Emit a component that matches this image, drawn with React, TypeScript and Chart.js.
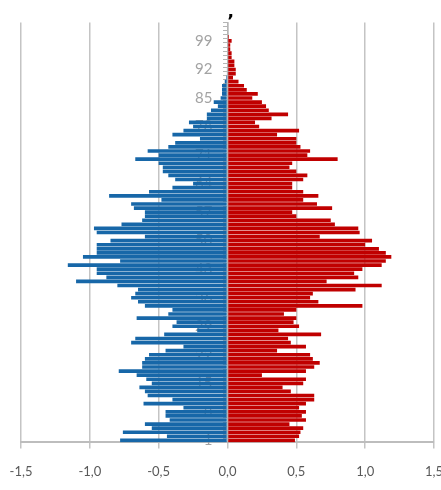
import { useEffect, useRef } from "react";
import { Chart, registerables } from "chart.js";

Chart.register(...registerables);

// ages 1..103, bottom to top
const ages = Array.from({ length: 103 }, (_, i) => String(i + 1));
const labelledAges = ["1", "8", "15", "22", "29", "36", "43", "50", "57", "64", "71", "78", "85", "92", "99"];

// share of population in %, by single year of age (1 -> 103)
const men = [
  0.78, 0.44, 0.76, 0.55, 0.6, 0.42, 0.45, 0.45, 0.32, 0.61,
  0.4, 0.58, 0.6, 0.64, 0.55, 0.59, 0.66, 0.79, 0.62, 0.62,
  0.6, 0.57, 0.45, 0.32, 0.7, 0.67, 0.46, 0.22, 0.4, 0.37,
  0.66, 0.43, 0.4, 0.6, 0.65, 0.7, 0.67, 0.65, 0.8, 1.1,
  0.88, 0.95, 0.95, 1.16, 0.78, 1.05, 0.95, 0.95, 0.95, 0.85,
  0.6, 0.95, 0.97, 0.77, 0.62, 0.6, 0.6, 0.68, 0.7, 0.48,
  0.86, 0.57, 0.4, 0.25, 0.38, 0.43, 0.47, 0.47, 0.5, 0.67,
  0.5, 0.58, 0.43, 0.38, 0.2, 0.4, 0.32, 0.25, 0.28, 0.15,
  0.15, 0.12, 0.07, 0.1, 0.05, 0.04, 0.04, 0.04, 0.02, 0.01,
  0.005, 0.005, 0, 0, 0, 0, 0, 0, 0, 0,
  0, 0, 0,
];
const women = [
  0.49, 0.52, 0.53, 0.55, 0.45, 0.57, 0.54, 0.57, 0.52, 0.57,
  0.63, 0.63, 0.46, 0.4, 0.55, 0.57, 0.25, 0.57, 0.63, 0.67,
  0.62, 0.6, 0.36, 0.57, 0.46, 0.44, 0.68, 0.37, 0.52, 0.48,
  0.5, 0.41, 0.5, 0.98, 0.66, 0.6, 0.62, 0.93, 1.12, 0.72,
  0.95, 0.92, 0.98, 1.12, 1.15, 1.19, 1.15, 1.1, 1.0, 1.05,
  0.67, 0.96, 0.95, 0.78, 0.75, 0.5, 0.47, 0.76, 0.65, 0.55,
  0.66, 0.55, 0.47, 0.47, 0.55, 0.58, 0.5, 0.45, 0.47, 0.8,
  0.58, 0.6, 0.53, 0.5, 0.5, 0.36, 0.52, 0.23, 0.2, 0.32,
  0.44, 0.3, 0.28, 0.25, 0.18, 0.22, 0.14, 0.12, 0.08, 0.04,
  0.06, 0.06, 0.05, 0.05, 0.03, 0.03, 0.02, 0.02, 0.03, 0.01,
  0, 0, 0,
];

export default function App() {
  const canvasRef = useRef<HTMLCanvasElement>(null);

  useEffect(() => {
    if (!canvasRef.current) return;
    const chart = new Chart(canvasRef.current, {
      type: "bar",
      data: {
        labels: ages,
        datasets: [
          {
            label: "Männer",
            data: men.map((v) => -v),
            backgroundColor: "#1767a8",
            barPercentage: 0.9,
            categoryPercentage: 1,
          },
          {
            label: "Frauen",
            data: women,
            backgroundColor: "#c00000",
            barPercentage: 0.9,
            categoryPercentage: 1,
          },
        ],
      },
      options: {
        indexAxis: "y",
        responsive: true,
        maintainAspectRatio: false,
        animation: false,
        layout: { padding: { left: 30, right: 30, top: 0, bottom: 0 } },
        plugins: {
          legend: { display: false },
          tooltip: { enabled: false },
          title: {
            display: true,
            text: " ’",
            color: "#000",
            font: { family: "DejaVu Sans", size: 18, weight: "bold", lineHeight: 0.5 },
            padding: { top: 18.3, bottom: -4.7 },
          },
        },
        scales: {
          x: {
            type: "linear",
            min: -1.5,
            max: 1.5,
            stacked: true,
            ticks: {
              stepSize: 0.5,
              color: "#595959",
              font: { family: "Lato", size: 13 },
              padding: 16,
              callback: (v) => Number(v).toFixed(1).replace(".", ","),
            },
            grid: { color: "#c4c4c4", lineWidth: 1.5, tickLength: 6 },
            border: { color: "#bdbdbd", width: 2 },
          },
          y: {
            type: "category",
            position: "center",
            reverse: true,
            stacked: true,
            z: 1,
            ticks: {
              autoSkip: false,
              color: "#a3a3a3",
              font: { family: "Lato", size: 15 },
              padding: 11,
              callback: (_v, i) => (labelledAges.includes(ages[i]) ? ages[i] : ""),
            },
            grid: { drawOnChartArea: false, tickLength: 4, color: "#b5b5b5", lineWidth: 1 },
            border: { color: "#b5b5b5", width: 1.5 },
          },
        },
      },
    });
    return () => chart.destroy();
  }, []);

  return (
    <div style={{ position: "absolute", left: 0, top: 0, width: 441, height: 490, overflow: "hidden", background: "#fff" }}>
      <div style={{ position: "absolute", left: -9, top: 0, width: 473, height: 496 }}>
        <canvas ref={canvasRef} />
      </div>
    </div>
  );
}
